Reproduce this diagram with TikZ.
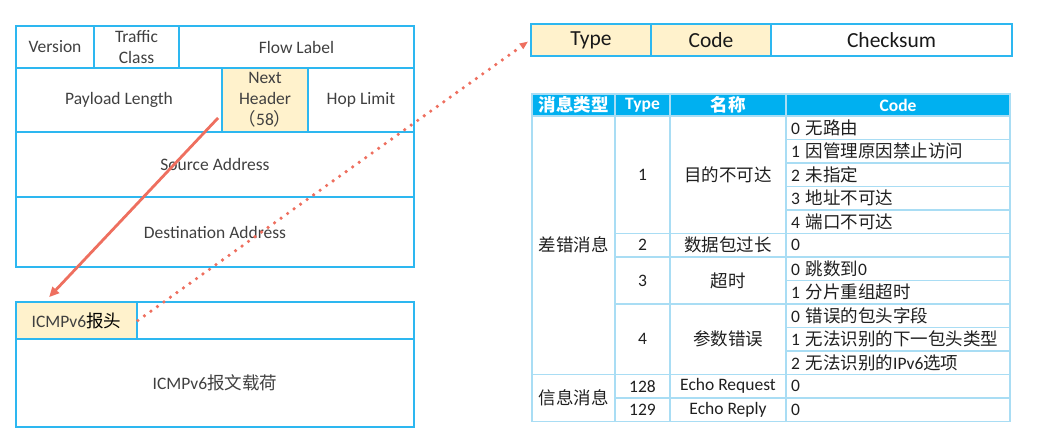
\documentclass[tikz,border=0pt]{standalone}
\usepackage{fontspec}
\setmainfont{Carlito}
\newfontfamily\cjk{Noto Sans CJK SC}
\usetikzlibrary{arrows.meta, calc}
\definecolor{ipblue}{HTML}{2DB7F0}
\definecolor{tabline}{HTML}{A9DDF4}
\definecolor{headblue}{HTML}{00B0F0}
\definecolor{hdrcream}{HTML}{FFF2CC}
\definecolor{arrowred}{HTML}{EE6F5F}
\newcommand{\zh}[1]{{\cjk #1}}

\begin{document}
\begin{tikzpicture}[
    x=1pt, y=-1pt,
    field/.style={rectangle, draw=ipblue, line width=1.8pt, inner sep=0pt,
                 align=center, font=\fontsize{17.5}{21}\selectfont, text=black!75},
    hdrfield/.style={field, fill=hdrcream},
    icmpfield/.style={rectangle, draw=ipblue, line width=1.6pt, fill=hdrcream,
                 minimum width=120pt, minimum height=32pt, inner sep=0pt,
                 font=\fontsize{21.5}{24}\selectfont, text=black!90},
    cell/.style={rectangle, draw=tabline, line width=1.4pt, inner sep=0pt,
                 align=center, font=\fontsize{17.5}{20}\selectfont, text=black!88},
    headcell/.style={cell, fill=headblue, text=white, minimum height=22pt,
                 font=\fontsize{17.5}{20}\selectfont\bfseries},
    codecell/.style={cell, text width=214pt, inner xsep=5pt, align=left,
                 minimum height=23.5pt},
    arrow/.style={-{Triangle[length=10pt,width=9pt]}, line width=2.8pt, arrowred}
]
\useasboundingbox (0,0) rectangle (1043,443);

% IPv6 basic header
\node[field, minimum width=78pt, minimum height=42pt] at (55,47) (ver) {Version};
\node[field, minimum width=85pt, minimum height=42pt] at (136.5,47) (tc) {Traffic\\Class};
\node[field, minimum width=235pt, minimum height=42pt] at (296.5,47) (fl) {Flow Label};
\node[field, minimum width=206pt, minimum height=64pt] at (119,100) (plen) {Payload Length};
\node[hdrfield, minimum width=86pt, minimum height=64pt] at (265,100) (nh) {Next\\Header\\\zh{（}58\zh{）}};
\node[field, minimum width=106pt, minimum height=64pt] at (361,100) (hop) {Hop Limit};
\node[field, minimum width=398pt, minimum height=65pt] at (215,164.5) (src) {Source Address};
\node[field, minimum width=398pt, minimum height=70pt] at (215,232) (dst) {Destination Address};

% ICMPv6 message
\node[hdrfield, minimum width=121pt, minimum height=37pt] at (76.5,320.5) (icmph) {ICMPv6\zh{\color{black}报头}};
\node[field, minimum width=277pt, minimum height=37pt] at (275.5,320.5) (icmpe) {};
\node[field, minimum width=398pt, minimum height=88pt] at (215,383) (icmpd) {ICMPv6\zh{报文载荷}};

% ICMPv6 header fields
\node[icmpfield] at (591,40) (type) {Type};
\node[icmpfield] at (711,40) (code) {Code};
\node[icmpfield, fill=none, minimum width=241pt] at (891.5,40) (csum) {Checksum};

% Table head
\node[headcell, minimum width=83pt] at (573.5,105) (h-kind) {\zh{消息类型}};
\node[headcell, minimum width=55pt] at (642.5,105) (h-type) {Type};
\node[headcell, minimum width=116pt] at (728,105) (h-name) {\zh{名称}};
\node[headcell, minimum width=224pt] at (898,105) (h-code) {Code};

% Message kinds
\node[cell, minimum width=83pt, minimum height=258.5pt] at (573.5,245.25) (err) {\zh{差错消息}};
\node[cell, minimum width=83pt, minimum height=47pt] at (573.5,398) (info) {\zh{信息消息}};

% Types and names
\node[cell, minimum width=55pt, minimum height=117.5pt] at (642.5,174.75) (t1) {1};
\node[cell, minimum width=116pt, minimum height=117.5pt] at (728,174.75) (n1) {\zh{目的不可达}};
\node[cell, minimum width=55pt, minimum height=23.5pt] at (642.5,245.25) (t2) {2};
\node[cell, minimum width=116pt, minimum height=23.5pt] at (728,245.25) (n2) {\zh{数据包过长}};
\node[cell, minimum width=55pt, minimum height=47pt] at (642.5,280.5) (t3) {3};
\node[cell, minimum width=116pt, minimum height=47pt] at (728,280.5) (n3) {\zh{超时}};
\node[cell, minimum width=55pt, minimum height=70.5pt] at (642.5,339.25) (t4) {4};
\node[cell, minimum width=116pt, minimum height=70.5pt] at (728,339.25) (n4) {\zh{参数错误}};
\node[cell, minimum width=55pt, minimum height=23.5pt] at (642.5,386.25) (t128) {128};
\node[cell, minimum width=116pt, minimum height=23.5pt] at (728,386.25) (n128) {Echo Request};
\node[cell, minimum width=55pt, minimum height=23.5pt] at (642.5,409.75) (t129) {129};
\node[cell, minimum width=116pt, minimum height=23.5pt] at (728,409.75) (n129) {Echo Reply};

% Codes
\node[codecell] at (898,127.75) (c1-0) {0 \zh{无路由}};
\node[codecell] at (898,151.25) (c1-1) {1 \zh{因管理原因禁止访问}};
\node[codecell] at (898,174.75) (c1-2) {2 \zh{未指定}};
\node[codecell] at (898,198.25) (c1-3) {3 \zh{地址不可达}};
\node[codecell] at (898,221.75) (c1-4) {4 \zh{端口不可达}};
\node[codecell] at (898,245.25) (c2-0) {0};
\node[codecell] at (898,268.75) (c3-0) {0 \zh{跳数到}0};
\node[codecell] at (898,292.25) (c3-1) {1 \zh{分片重组超时}};
\node[codecell] at (898,315.75) (c4-0) {0 \zh{错误的包头字段}};
\node[codecell] at (898,339.25) (c4-1) {1 \zh{无法识别的下一包头类型}};
\node[codecell] at (898,362.75) (c4-2) {2 \zh{无法识别的}IPv6\zh{选项}};
\node[codecell] at (898,386.25) (c128) {0};
\node[codecell] at (898,409.75) (c129) {0};

% Arrows
\draw[arrow] ($(nh.south west)+(-3,-15)$) -- ($(icmph.north west)+(34,-4)$);
\draw[arrow, line width=3.6pt, dash pattern=on 0pt off 8pt, line cap=round,
      -{Triangle[length=8pt,width=7pt,line width=0pt]}, shorten >=3pt] (icmph.east) -- (type.west);

\end{tikzpicture}
\end{document}
